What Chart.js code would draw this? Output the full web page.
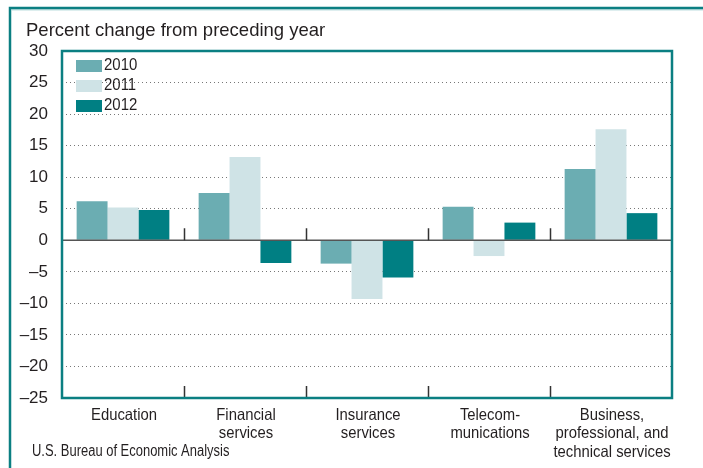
<!DOCTYPE html>
<html>
<head>
<meta charset="utf-8">
<script src="https://cdn.jsdelivr.net/npm/chart.js@4.4.1/dist/chart.umd.min.js"></script>
<style>
    html, body { margin: 0; padding: 0; background: #fff; }
</style>
</head>
<body>
<canvas id="myChart" width="703" height="468"></canvas>
<script>
// data
const categories = ['Education', ['Financial', 'services'], ['Insurance', 'services'], ['Telecom-', 'munications'], ['Business,', 'professional, and', 'technical services']];
const seriesNames = ['2010', '2011', '2012'];
const values2010 = [6.2, 7.5, -3.7, 5.3, 11.3];
const values2011 = [5.2, 13.2, -9.3, -2.5, 17.6];
const values2012 = [4.8, -3.6, -5.9, 2.8, 4.3];
const yMin = -25;
const yMax = 30;
const yStep = 5;

const colors = ['#6badb2', '#cfe3e6', '#007f83'];
const teal = '#0b7f82';
const textColor = '#231f20';
const fontFamily = '"Liberation Sans", Arial, sans-serif';

// the original uses a condensed face, so squeeze the text horizontally
var drawText = function (c, text, x, y, size, squeeze, align) {
    c.save();
    c.font = size + 'px ' + fontFamily;
    c.textAlign = align;
    c.textBaseline = 'middle';
    c.translate(x, y);
    c.scale(squeeze, 1);
    c.fillText(text, 0, 0);
    c.restore();
};

const framePlugin = {
    id: 'frame',
    beforeDraw: function (chart) {
        const c = chart.ctx;
        c.save();
        c.fillStyle = '#fff';
        c.fillRect(0, 0, chart.width, chart.height);
        // outer box (top and left sides)
        c.strokeStyle = teal;
        c.lineWidth = 2.5;
        c.beginPath();
        c.moveTo(703, 8);
        c.lineTo(10, 8);
        c.lineTo(10, 468);
        c.stroke();
        c.strokeStyle = '#8cc4c6';
        c.lineWidth = 1;
        c.beginPath();
        c.moveTo(703, 9.8);
        c.lineTo(11.8, 9.8);
        c.stroke();
        // title
        c.fillStyle = textColor;
        c.font = '18.5px ' + fontFamily;
        c.textBaseline = 'alphabetic';
        c.textAlign = 'left';
        c.fillText('Percent change from preceding year', 26, 36);
        // source
        drawText(c, 'U.S. Bureau of Economic Analysis', 32, 452, 16, 0.81, 'left');
        c.restore();
    },
    afterDatasetsDraw: function (chart) {
        const c = chart.ctx;
        const area = chart.chartArea;
        const x = chart.scales.x;
        const y = chart.scales.y;
        const zeroY = y.getPixelForValue(0);
        c.save();
        // zero line
        c.strokeStyle = '#555';
        c.lineWidth = 1.5;
        c.beginPath();
        c.moveTo(area.left, zeroY);
        c.lineTo(area.right, zeroY);
        c.stroke();
        // category dividers
        c.strokeStyle = '#333';
        c.lineWidth = 1.5;
        for (let i = 0; i < categories.length - 1; i++) {
            const bx = Math.round((x.getPixelForTick(i) + x.getPixelForTick(i + 1)) / 2) + 0.5;
            c.beginPath();
            c.moveTo(bx, zeroY - 12);
            c.lineTo(bx, zeroY);
            c.moveTo(bx, area.bottom - 12);
            c.lineTo(bx, area.bottom);
            c.stroke();
        }
        // plot frame
        c.strokeStyle = teal;
        c.lineWidth = 2.5;
        c.strokeRect(area.left, area.top, area.right - area.left, area.bottom - area.top);
        // category labels, placed on the x scale ticks
        c.fillStyle = textColor;
        categories.forEach(function (lab, i) {
            const lines = Array.isArray(lab) ? lab : [lab];
            const cx = x.getPixelForTick(i);
            lines.forEach(function (line, j) {
                drawText(c, line, cx + 1, area.bottom + 17 + j * 18.5, 16.5, 0.9, 'center');
            });
        });
        // legend
        chart.data.datasets.forEach(function (ds, i) {
            const top = 60 + i * 20;
            c.fillStyle = ds.backgroundColor;
            c.fillRect(76, top, 26, 12);
            c.fillStyle = textColor;
            drawText(c, ds.label, 104, top + 5, 17, 0.88, 'left');
        });
        c.restore();
    }
};

const ctx = document.getElementById('myChart').getContext('2d');
const myChart = new Chart(ctx, {
    type: 'bar',
    data: {
        labels: categories,
        datasets: [
            { label: seriesNames[0], data: values2010, backgroundColor: colors[0] },
            { label: seriesNames[1], data: values2011, backgroundColor: colors[1] },
            { label: seriesNames[2], data: values2012, backgroundColor: colors[2] }
        ]
    },
    options: {
        responsive: false,
        animation: false,
        devicePixelRatio: 1,
        categoryPercentage: 0.76,
        barPercentage: 1.0,
        layout: { padding: { left: 0, top: 51, right: 31, bottom: 0 } },
        plugins: {
            legend: { display: false },
            title: { display: false },
            tooltip: { enabled: false }
        },
        scales: {
            x: {
                grid: { display: false },
                border: { display: false },
                ticks: { display: false },
                afterFit: function (scale) { scale.height = 70; }
            },
            y: {
                min: yMin,
                max: yMax,
                ticks: {
                    stepSize: yStep,
                    color: textColor,
                    font: { family: fontFamily, size: 17 },
                    padding: 14,
                    callback: function (v) { return v < 0 ? '\u2013' + Math.abs(v) : String(v); }
                },
                grid: {
                    drawTicks: false,
                    lineWidth: 1,
                    color: function (c) {
                        const v = c.tick && c.tick.value;
                        if (v === 0 || v === yMin || v === yMax) return 'rgba(0,0,0,0)';
                        return '#777';
                    }
                },
                border: { display: false, dash: [1, 3] },
                afterFit: function (scale) { scale.width = 62; }
            }
        }
    },
    plugins: [framePlugin]
});
</script>
</body>
</html>
